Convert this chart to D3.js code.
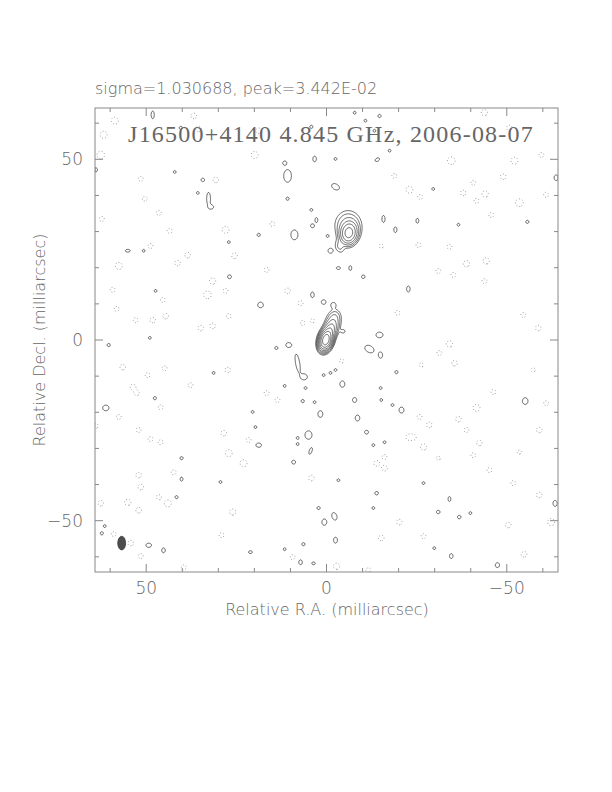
<!DOCTYPE html>
<html>
<head>
<meta charset="utf-8">
<script src="https://cdn.jsdelivr.net/npm/d3@7"></script>
<style>
body { margin: 0; background: #fff; }
text { font-family: "DejaVu Sans", sans-serif; font-weight: 200; fill: #666; }
</style>
</head>
<body>
<svg id="chart" width="612" height="792"></svg>
<script>

// header texts
var headerText = "sigma=1.030688, peak=3.442E-02";
var titleText = "J16500+4140 4.845 GHz, 2006-08-07";
var xLabel = "Relative R.A. (milliarcsec)";
var yLabel = "Relative Decl. (milliarcsec)";

// ticks (mas)
var majorTicks = [50, 0, -50];
var minorTicks = [60, 40, 30, 20, 10, -10, -20, -30, -40, -60];

// contour levels, multiples of the lowest level (mJy/beam)
var baseLevel = 0.135;
var levelFactors = [1, 2, 4, 8, 16, 32, 64, 128];

// clean components: ra, dec (mas), peak (mJy), sigma ra, sigma dec, pa (deg)
var sources = [
    [0.2, 0.0, 30.0, 0.8, 1.3, -15],
    [-0.9, 2.4, 4.0, 0.9, 1.4, -20],
    [-1.8, 4.8, 0.9, 1.1, 1.5, -10],
    [-2.4, 6.8, 0.25, 1.0, 1.1, 0],
    [-4.6, 2.4, 0.2, 0.6, 0.5, 0],
    [-6.2, 29.6, 6.0, 1.15, 1.5, -10],
    [-6.0, 31.8, 0.7, 2.0, 2.2, 0],
    [-3.6, 25.8, 0.3, 0.8, 1.2, 20]
];

// positive noise islands: ra, dec, radius ra, radius dec, pa
var posIslands = [
    [48.2,62.3,.45,1.1],[40.4,58.7,.45,.45],[4.2,59.0,.45,.45],[11.6,49.0,.5,.5],
    [3.3,50.1,.5,.8],[10.8,45.4,1.1,1.8],[42.1,46.5,.4,.4],[34.3,44.3,.5,.5],
    [35.7,40.7,.4,.4],[32.7,39.1,.55,1.8],[31.9,36.8,.6,.5],[10.8,39.1,.45,.45],
    [4.2,36.0,.4,.4],[2.8,33.2,.4,.7],[3.9,31.6,.55,.55],[8.9,29.1,1.0,1.4],
    [18.8,29.1,.45,.45],[27.1,27.1,.4,.4],[55.1,24.7,.7,.4],[50.7,24.7,.4,.4],
    [26.9,17.5,.55,.55],[47.4,13.6,.4,.4],[3.9,12.5,.5,.8],[0.8,10.5,.65,.65],
    [18.3,9.7,.8,.8],[49.0,0.6,.4,.4],[64.0,47.1,.5,.6],[-14.7,62.0,.45,.45],
    [-10.8,60.7,.4,.4],[-13.3,57.9,.4,.4],[-7.8,62.9,.4,.4],[-2.5,50.1,.4,.4],
    [-14.1,49.9,.7,.45,30],[-17.5,52.4,.4,.4],[-2.5,42.4,1.2,.8,-30],[-15.8,33.5,.45,1.0],
    [-19.1,30.5,.45,.8],[-25.2,33.0,.4,.7],[-55.7,32.7,.45,.45],[-63.7,44.9,.6,.8],
    [-0.3,28.8,.4,.4],[-1.1,24.7,.7,.7],[-3.3,19.9,.6,.4],[-6.6,19.9,.4,.7],
    [-10.2,17.5,.5,.5],[-22.7,14.1,.5,.85],[-1.9,9.7,.7,.7],[-14.7,1.4,1.0,.8],
    [-36.6,31.9,.4,.4],[-29.6,41.8,.4,.4],[60.4,-1.4,.45,.45],[13.9,-2.2,.45,.45],
    [10.5,-1.4,.8,.7],[8.0,-6.4,.6,2.6,10],[6.1,-10.2,.8,.8],[0.8,-9.7,.4,.4],
    [11.6,-12.7,.4,.4],[5.8,-13.3,.4,.4],[47.6,-16.1,.45,.45],[6.6,-16.9,.45,.45],
    [3.3,-17.2,.4,.4],[61.2,-18.8,.9,.8],[1.7,-20.5,.7,.95],[20.5,-19.9,.4,.4],
    [19.7,-24.1,.4,.4],[5.0,-26.3,1.0,1.2],[8.0,-27.1,.4,.4],[8.0,-28.8,.4,.4],
    [4.4,-30.7,.4,1.0,-20],[18.8,-29.1,.8,.6],[9.1,-33.8,.55,.55],[40.2,-32.7,.45,.45],
    [40.2,-38.5,.4,.6],[29.4,-39.3,.4,.4],[41.6,-43.5,.45,.45],[2.2,-46.5,.45,.45],
    [0.6,-50.4,.7,.9],[62.3,-53.5,.45,.45],[61.5,-51.5,.4,.4],[49.3,-56.8,.8,.6],
    [45.2,-58.2,.5,.7],[21.1,-58.7,.55,.4],[6.4,-56.5,.45,.45],[7.2,-61.5,.5,.7],
    [3.6,-61.8,.5,.4],[11.6,-57.9,.4,.4],[31.3,-9.1,.4,.4],[-11.9,-2.5,1.4,.95,-30],
    [-15.0,-4.2,.55,.85],[-1.1,-9.1,.4,.4],[-2.5,-8.3,.4,.4],[-19.4,-8.9,.45,.45],
    [-4.4,-12.2,.7,.9],[-15.0,-13.3,.4,.4],[-7.8,-16.6,.6,.7],[-15.2,-16.6,.4,.4],
    [-18.3,-18.0,.4,.4],[-20.8,-19.4,.7,.85],[-8.6,-21.6,.65,.85],[-11.1,-25.5,.55,.55],
    [-13.0,-29.1,.4,.4],[-16.1,-28.3,.4,.4],[-55.1,-16.9,.8,.95],[-13.9,-42.4,.5,.5],
    [-34.1,-44.0,.4,.7],[-31.0,-47.6,.5,.5],[-36.8,-49.0,.5,.5],[-39.9,-47.9,.4,.4],
    [-2.2,-48.8,.7,1.1,20],[-2.5,-55.4,.55,.85],[-34.6,-59.8,.5,.7],[-47.4,-62.3,.6,.7],
    [-63.4,-45.2,.6,.85],[-26.9,-39.6,.4,.4],[-3.3,-38.8,.4,.4],[-13.0,-46.5,.4,.4],
    [-29.9,-57.6,.4,.4]
];

// negative noise islands: ra, dec, radius
var negIslands = [
    [58.7,60.7,1.0],[61.8,56.8,1.0],[62.6,51.2,1.1],[36.8,62.0,0.8],[35.5,58.4,0.8],
    [18.8,57.9,0.8],[19.9,51.2,1.0],[51.5,44.6,0.7],[30.7,44.3,0.8],[50.4,39.1,0.7],
    [46.5,35.2,0.7],[62.3,33.5,0.7],[43.5,30.2,0.7],[28.0,30.5,1.0],[15.0,32.1,0.7],
    [48.8,26.0,0.7],[38.5,23.5,0.8],[41.3,21.3,0.8],[25.5,23.3,0.8],[57.6,20.5,1.0],
    [16.6,19.4,0.7],[31.6,16.3,0.9],[33.0,12.5,1.1],[59.3,13.9,0.7],[45.4,11.1,0.7],
    [28.0,13.6,0.7],[10.8,13.6,0.8],[7.2,10.2,0.7],[58.2,8.6,0.7],[44.6,6.6,0.8],
    [48.2,5.5,0.8],[52.9,5.5,0.7],[34.9,3.3,0.8],[31.6,3.9,0.8],[27.1,6.6,0.7],
    [6.6,4.7,0.7],[3.9,5.3,0.6],
    [-43.8,62.9,0.9],[-50.7,58.7,0.8],[-34.6,49.6,1.1],[-52.1,49.6,1.0],[-18.8,45.4,0.7],
    [-23.0,41.6,1.0],[-26.0,39.6,0.7],[-37.9,40.7,0.8],[-40.7,43.5,0.7],[-44.0,40.4,0.9],
    [-41.6,38.5,0.7],[-49.0,45.2,0.8],[-53.5,38.0,1.1],[-60.9,40.2,0.7],[-25.5,26.3,0.7],
    [-34.1,25.8,0.7],[-38.8,21.1,0.9],[-44.3,21.9,0.9],[-31.0,19.1,0.7],[-35.2,18.0,0.7],
    [-43.8,16.3,0.7],[-15.2,26.0,0.6],[-19.7,7.5,0.7],[-54.6,6.9,0.7],[-58.7,3.3,0.8],
    [-59.6,51.2,0.7],[-45.7,34.6,0.7],
    [56.5,-7.5,0.8],[49.6,-9.7,0.7],[44.9,-7.8,0.7],[27.4,-8.3,0.8],[53.7,-13.0,0.8],
    [52.6,-14.7,0.7],[37.7,-12.5,0.7],[46.0,-18.6,0.7],[57.6,-21.3,0.7],[64.0,-23.8,0.7],
    [52.1,-24.9,0.7],[48.8,-27.4,0.7],[46.0,-28.3,0.7],[28.5,-25.8,0.8],[21.6,-27.7,0.7],
    [27.1,-31.3,1.0],[23.0,-34.1,1.0],[13.6,-16.6,0.7],[16.6,-14.7,0.7],[52.1,-37.4,0.8],
    [51.5,-40.7,0.8],[42.4,-36.6,0.7],[44.0,-45.2,1.0],[46.5,-43.5,0.7],[55.1,-44.9,0.9],
    [62.6,-45.2,0.8],[52.1,-47.1,0.8],[26.0,-47.6,0.9],[54.3,-56.2,0.8],[59.0,-53.7,0.7],
    [51.5,-59.8,0.7],[29.1,-54.0,0.7],[39.6,-62.9,0.7],[9.4,-60.1,0.7],[4.2,-38.2,0.8],
    [-34.1,-1.1,0.9],[-31.3,-3.6,0.7],[-4.2,-5.8,0.6],[-26.3,-6.9,0.6],[-35.5,-6.4,0.8],
    [-46.3,-14.4,0.7],[-41.6,-18.8,1.0],[-36.6,-21.9,0.8],[-25.8,-21.3,0.7],[-28.5,-23.5,0.8],
    [-24.1,-26.9,0.8],[-26.9,-29.6,0.9],[-22.7,-26.9,0.7],[-38.8,-24.9,0.7],[-42.4,-28.5,0.8],
    [-40.7,-31.9,0.7],[-31.0,-32.7,0.6],[-16.1,-32.4,0.7],[-13.9,-34.1,0.8],[-16.1,-35.5,0.8],
    [-60.9,-17.5,0.7],[-59.0,-24.9,0.8],[-53.5,-31.0,0.6],[-45.2,-36.0,0.7],[-51.8,-39.6,0.7],
    [-59.0,-42.9,0.8],[-62.3,-50.4,1.0],[-50.4,-51.2,0.8],[-20.2,-50.4,0.8],[-26.9,-54.3,0.7],
    [-15.2,-54.8,0.8],[-54.8,-59.3,0.8],[-2.8,-62.6,0.9],[-11.6,-63.7,0.7],[-57.3,-8.3,0.6]
];

// restoring beam: ra, dec, major, minor (mas), pa
var beam = [56.8, -56.2, 3.8, 2.2, 0];

var svg = d3.select("#chart");
var half = 64.2;
var x = d3.scaleLinear().domain([half, -half]).range([95, 558]);
var y = d3.scaleLinear().domain([-half, half]).range([572, 108]);

//******************** build the image grid ********************
var n = 600, step = 2 * half / n;
var grid = new Float64Array(n * n);

function addGauss(ra, dec, peak, sx, sy, pa) {
    var th = (pa || 0) * Math.PI / 180, c = Math.cos(th), s = Math.sin(th);
    var rmax = 4.5 * Math.max(sx, sy);
    var i0 = Math.max(0, Math.floor((half - ra - rmax) / step)),
        i1 = Math.min(n - 1, Math.ceil((half - ra + rmax) / step)),
        j0 = Math.max(0, Math.floor((half - dec - rmax) / step)),
        j1 = Math.min(n - 1, Math.ceil((half - dec + rmax) / step));
    for (var j = j0; j <= j1; j++) {
        var gy = half - (j + 0.5) * step - dec;
        for (var i = i0; i <= i1; i++) {
            var gx = half - (i + 0.5) * step - ra;
            var u = gx * c - gy * s, v = gx * s + gy * c;
            grid[j * n + i] += peak * Math.exp(-0.5 * (u * u / (sx * sx) + v * v / (sy * sy)));
        }
    }
}

sources.forEach(function (d) { addGauss(d[0], d[1], d[2], d[3], d[4], d[5]); });
posIslands.forEach(function (d) { addGauss(d[0], d[1], 1.6 * baseLevel, d[2], d[3], d[4]); });
negIslands.forEach(function (d) { addGauss(d[0], d[1], -1.6 * baseLevel, d[2], d[2], 0); });

var negGrid = grid.map(function (v) { return -v; });

var levels = levelFactors.map(function (k) { return k * baseLevel; });
var posContours = d3.contours().size([n, n]).thresholds(levels)(grid);
var negContours = d3.contours().size([n, n]).thresholds([baseLevel])(negGrid);

var path = d3.geoPath(d3.geoTransform({
    point: function (px, py) { this.stream.point(x(half - px * step), y(half - py * step)); }
}));

//******************** draw ********************
svg.append("clipPath").attr("id", "frameClip")
    .append("rect").attr("x", 95).attr("y", 108).attr("width", 463).attr("height", 464);

var plot = svg.append("g").attr("clip-path", "url(#frameClip)");

plot.selectAll("path.neg")
    .data(negContours)
    .enter().append("path")
    .attr("class", "neg")
    .attr("d", path)
    .attr("fill", "none")
    .attr("stroke", "#777")
    .attr("stroke-width", 0.8)
    .attr("stroke-dasharray", "0.9 2.2");

plot.selectAll("path.pos")
    .data(posContours)
    .enter().append("path")
    .attr("class", "pos")
    .attr("d", path)
    .attr("fill", "none")
    .attr("stroke", "#333")
    .attr("stroke-width", 0.75);

// beam
plot.append("ellipse")
    .attr("cx", x(beam[0])).attr("cy", y(beam[1]))
    .attr("rx", Math.abs(x(beam[3] / 2) - x(0)))
    .attr("ry", Math.abs(y(beam[2] / 2) - y(0)))
    .attr("transform", "rotate(" + (-beam[4]) + "," + x(beam[0]) + "," + y(beam[1]) + ")")
    .attr("fill", "#4d4d4d")
    .attr("stroke", "#333")
    .attr("stroke-width", 0.7);

// frame
svg.append("rect")
    .attr("x", 95).attr("y", 108).attr("width", 463).attr("height", 464)
    .attr("fill", "none").attr("stroke", "#888").attr("stroke-width", 1);

// ticks on all four sides, pointing inward
function tickLines(vals, len) {
    var g = svg.append("g").attr("stroke", "#888").attr("stroke-width", 1);
    vals.forEach(function (v) {
        g.append("line").attr("x1", x(v)).attr("x2", x(v)).attr("y1", 572).attr("y2", 572 - len);
        g.append("line").attr("x1", x(v)).attr("x2", x(v)).attr("y1", 108).attr("y2", 108 + len);
        g.append("line").attr("y1", y(v)).attr("y2", y(v)).attr("x1", 95).attr("x2", 95 + len);
        g.append("line").attr("y1", y(v)).attr("y2", y(v)).attr("x1", 558).attr("x2", 558 - len);
    });
}
tickLines(minorTicks, 4);
tickLines(majorTicks, 8);

function fmt(d) { return d < 0 ? "\u2212" + (-d) : String(d); }

svg.selectAll("text.xtick")
    .data(majorTicks)
    .enter().append("text")
    .attr("class", "xtick")
    .attr("x", function (d) { return x(d); })
    .attr("y", 594)
    .attr("text-anchor", "middle")
    .style("font-size", "17px")
    .text(fmt);

svg.selectAll("text.ytick")
    .data(majorTicks)
    .enter().append("text")
    .attr("class", "ytick")
    .attr("x", 83)
    .attr("y", function (d) { return y(d) + 6; })
    .attr("text-anchor", "end")
    .style("font-size", "17px")
    .text(fmt);

svg.append("text")
    .attr("x", 327).attr("y", 615)
    .attr("text-anchor", "middle")
    .style("font-size", "16px")
    .text(xLabel);

svg.append("text")
    .attr("transform", "translate(45,340) rotate(-90)")
    .attr("text-anchor", "middle")
    .style("font-size", "16px")
    .text(yLabel);

svg.append("text")
    .attr("x", 95).attr("y", 94)
    .style("font-size", "16px")
    .text(headerText);

svg.append("text")
    .attr("x", 331).attr("y", 142)
    .attr("text-anchor", "middle")
    .style("font-family", "'Liberation Serif', serif")
    .style("font-weight", "normal")
    .style("font-size", "24px")
    .style("letter-spacing", "1.2px")
    .style("fill", "#666")
    .text(titleText);

</script>
</body>
</html>
